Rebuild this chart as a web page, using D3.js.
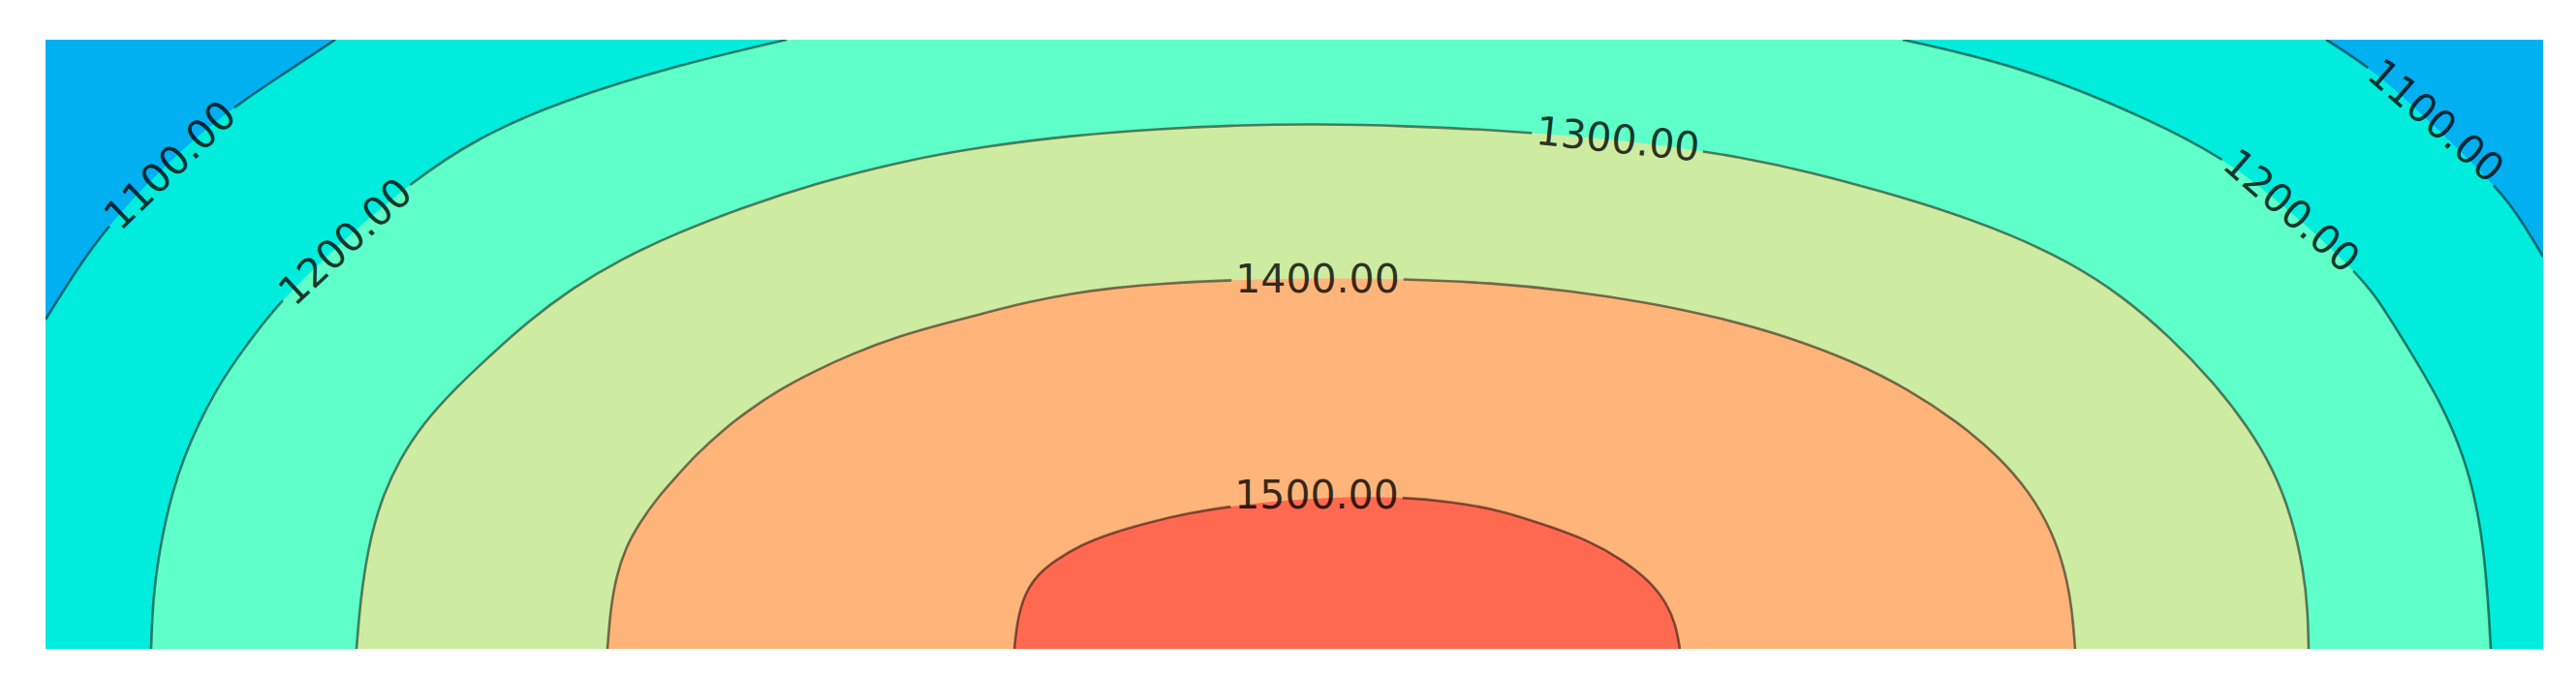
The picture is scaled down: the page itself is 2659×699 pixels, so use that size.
<!DOCTYPE html>
<html>
<head>
<meta charset="UTF-8">
<title>Contour levels 1100 - 1500</title>
<script src="https://cdn.jsdelivr.net/npm/d3@7/dist/d3.min.js"></script>
<style>
  body { margin: 0; background: #fff; }
</style>
</head>
<body>
<script>
// contour levels, and the fill of each band from below 1100 up to above 1500
var levels = [1100, 1200, 1300, 1400, 1500];
var bandColors = ["#00b0f0", "#00ecdc", "#5effc8", "#cdeca2", "#ffb57a", "#ff6950"];

// contour lines, [x, y] in plot units (x 0..257.8, y 0..62.9)
var c1100L = [[29.9,62.9],[24.8,59.5],[19.4,56.0],[12.8,50.5],[6.5,43.8],[3.3,39.3],[0,34.0]];
var c1100R = [[235.4,62.9],[240.3,59.8],[246.3,54.3],[252.4,48.3],[255.0,45.2],[257.8,40.5]];
var c1200L = [[10.9,0],[11.1,6.0],[12.3,13.3],[14.1,19.7],[17.6,27.0],[21.2,32.0],[24.3,36.0],
              [30.8,42.3],[37.8,48.2],[44.4,52.7],[53.3,56.6],[65.3,60.3],[76.5,62.9]];
var c1200R = [[191.7,62.9],[204.6,60.0],[218.0,54.3],[225.1,50.5],[231.8,45.2],[238.1,39.3],[240.5,36.5],
              [243.3,32.0],[247.4,25.3],[250.1,18.7],[251.5,12.0],[252.1,5.3],[252.4,0]];
var c1300 = [[32.1,0],[32.5,5.0],[33.3,10.5],[34.6,15.3],[36.5,19.5],[39.0,23.3],[42.2,26.8],[45.8,30.2],
             [49.8,33.8],[54.3,37.2],[59.3,40.2],[65.3,43.0],[72.3,45.7],[79.3,48.0],[88.1,50.3],[97.0,51.9],
             [105.9,53.0],[114.9,53.7],[123.8,54.1],[131.3,54.2],[140.3,54.0],[149.3,53.6],[158.3,52.9],
             [167.3,52.0],[175.3,50.7],[182.3,49.2],[189.3,47.3],[196.3,45.2],[202.8,42.8],[208.8,40.0],
             [214.3,36.5],[219.3,32.2],[223.8,27.5],[227.3,23.0],[230.0,18.5],[231.9,13.5],[233.1,8.0],
             [233.5,4.0],[233.6,0]];
var c1400 = [[58.0,0],[58.3,4.0],[58.9,7.5],[59.9,10.5],[61.3,13.0],[63.3,15.8],[65.3,18.0],[67.1,20.0],
             [69.8,22.5],[72.5,24.6],[75.8,26.8],[79.2,28.6],[83.3,30.5],[88.1,32.3],[92.8,33.6],[97.0,34.7],
             [101.3,35.8],[105.9,36.7],[110.3,37.3],[114.9,37.7],[122.5,38.1],[131.3,38.3],[140.3,38.2],
             [149.3,37.8],[157.3,37.0],[165.3,35.8],[172.9,34.2],[180.3,32.1],[186.8,29.6],[192.3,26.8],
             [197.3,23.5],[201.5,20.0],[204.8,16.2],[207.1,12.2],[208.5,8.0],[209.2,4.0],[209.5,0]];
var c1500 = [[100.0,0],[100.3,3.0],[101.1,5.8],[102.5,7.8],[104.3,9.2],[106.8,10.7],[109.8,11.9],
             [113.6,13.0],[117.8,14.0],[122.8,14.8],[128.3,15.4],[134.3,15.7],[139.7,15.7],[145.3,15.2],
             [150.3,14.3],[155.1,12.7],[159.3,11.2],[162.8,9.2],[165.6,7.0],[167.3,4.8],[168.3,2.5],
             [168.7,0]];

// inline labels: level, centre point and slant
var labelLevels = [1100, 1200, 1300, 1400, 1500, 1100, 1200];
var labelPoints = [[12.8,50.0],[30.9,42.1],[162.3,52.7],[131.3,38.3],[131.2,16.0],[246.8,54.6],[231.9,45.3]];
var labelAngles = [-44, -43, 6, 0, 0, 41, 41];

var w = 2659, h = 699;
var plotLeft = 47, plotRight = 2625, plotTop = 41, plotBottom = 670;

var x = d3.scaleLinear().domain([0, 257.8]).range([plotLeft, plotRight]);
var y = d3.scaleLinear().domain([0, 62.9]).range([plotBottom, plotTop]);

var line = d3.line()
  .x(function(d){ return x(d[0]); })
  .y(function(d){ return y(d[1]); })
  .curve(d3.curveBasis);

var svg = d3.select("body").append("svg")
  .attr("width", w)
  .attr("height", h);

var defs = svg.append("defs");
defs.append("clipPath").attr("id", "plotclip")
  .append("rect")
  .attr("x", plotLeft).attr("y", plotTop)
  .attr("width", plotRight - plotLeft).attr("height", plotBottom - plotTop);

var mask = defs.append("mask").attr("id", "gaps")
  .attr("maskUnits", "userSpaceOnUse")
  .attr("x", 0).attr("y", 0).attr("width", w).attr("height", h);
mask.append("rect").attr("width", w).attr("height", h).attr("fill", "#fff");

var plot = svg.append("g").attr("clip-path", "url(#plotclip)");

// bands, painted from the outside in
plot.append("rect")
  .attr("x", plotLeft).attr("y", plotTop)
  .attr("width", plotRight - plotLeft).attr("height", plotBottom - plotTop)
  .attr("fill", bandColors[1]);

plot.append("path")
  .attr("d", line(c1100L) + "L" + x(0) + "," + y(62.9) + "Z")
  .attr("fill", bandColors[0]);
plot.append("path")
  .attr("d", line(c1100R) + "L" + x(257.8) + "," + y(62.9) + "Z")
  .attr("fill", bandColors[0]);

plot.append("path")
  .attr("d", line(c1200L) + line(c1200R).replace(/^M/, "L") + "Z")
  .attr("fill", bandColors[2]);

[c1300, c1400, c1500].forEach(function(c, i){
  plot.append("path")
    .attr("d", line(c) + "Z")
    .attr("fill", bandColors[i + 3]);
});

// contour lines, broken where the labels go
plot.append("g")
  .attr("mask", "url(#gaps)")
  .selectAll("path")
  .data([c1100L, c1100R, c1200L, c1200R, c1300, c1400, c1500])
  .enter()
  .append("path")
  .attr("d", line)
  .attr("fill", "none")
  .attr("stroke", "#000")
  .attr("stroke-opacity", 0.5)
  .attr("stroke-width", 2.6);

var fmt = d3.format(".2f");

function place(i) {
  var p = labelPoints[i];
  return "translate(" + x(p[0]) + "," + y(p[1]) + ") rotate(" + labelAngles[i] + ")";
}

var labels = plot.selectAll("g.lbl")
  .data(labelLevels)
  .enter()
  .append("g")
  .attr("class", "lbl")
  .attr("transform", function(d, i){ return place(i); });

labels.append("text")
  .text(function(d){ return fmt(d); })
  .attr("text-anchor", "middle")
  .attr("dy", "0.36em")
  .attr("font-family", "DejaVu Sans")
  .attr("font-size", "41px")
  .attr("fill", "#000")
  .attr("fill-opacity", 0.8);

labels.each(function(d, i){
  var tw = this.querySelector("text").getComputedTextLength() + 8;
  mask.append("rect")
    .attr("x", -tw / 2).attr("y", -14)
    .attr("width", tw).attr("height", 28)
    .attr("fill", "#000")
    .attr("transform", place(i));
});
</script>
</body>
</html>
